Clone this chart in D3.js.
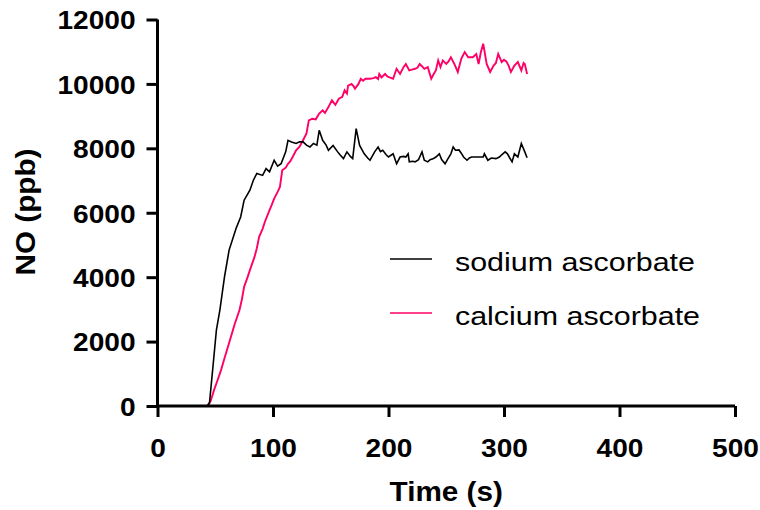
<!DOCTYPE html>
<html>
<head>
<meta charset="utf-8">
<script src="https://cdn.jsdelivr.net/npm/d3@7"></script>
<style>
  html, body { margin: 0; padding: 0; background: #fff; }
  svg { display: block; }
  text { font-family: Arial, "Liberation Sans", sans-serif; fill: #000; }
</style>
</head>
<body>
<svg id="chart" width="760" height="510"></svg>
<script>
// ---------- data ----------
const sodiumTime = [0,43,45,48,51,54,58,62,68,72,75,80,83,86,91,94,97,101,104,107,111,113,116,120,123,126,129,132,135,138,140,143,146,148,152,156,158,161,164,167,169,172,175,179,182,184,188,191,193,195,198,200,204,207,210,213,215,217,218,221,223,226,227,229,231,234,236,239,241,244,246,249,251,254,256,258,261,263,265,268,270,272,276,279,282,283,286,289,293,296,298,301,303,305,307,309,312,315,318,320];
const sodiumNO = [0,0,90,1220,2360,2980,4010,4840,5510,5870,6390,6700,7010,7220,7160,7370,7270,7630,7450,7520,7890,8250,8200,8150,8200,8200,8100,8040,8150,8100,8560,8250,8100,7940,8090,7890,7800,7680,7890,7750,7680,8610,8090,7830,7700,7630,7890,8040,7900,7940,7800,7730,7830,7520,7730,7750,7730,7830,7580,7600,7580,7650,7730,7890,7630,7580,7650,7680,7730,7830,7650,7520,7650,7830,8040,7940,7950,7850,7730,7630,7700,7730,7730,7730,7730,7830,7630,7700,7680,7730,7800,7890,7830,7700,7580,7830,7730,8150,7890,7710];

const calciumTime = [0,43,46,49,52,55,58,61,64,67,71,73,75,78,80,84,86,88,91,93,97,99,101,104,106,108,111,113,115,117,120,123,126,129,131,134,137,140,143,145,148,151,154,157,160,162,164,165,168,170,171,174,176,178,180,184,187,189,191,192,194,197,199,201,204,207,210,213,215,218,221,223,225,227,229,231,234,237,239,241,243,245,247,250,252,254,257,260,263,266,269,273,276,278,280,282,285,288,291,293,295,298,300,302,304,306,309,312,315,317,318,320];
const calciumNO = [0,0,150,500,800,1115,1480,1840,2200,2560,2980,3300,3700,4000,4220,4630,4900,5250,5500,5720,6080,6250,6440,6650,6800,7320,7400,7520,7600,7730,7940,8050,8250,8460,8870,8920,8900,9080,9180,9100,9280,9490,9350,9540,9600,9800,9700,9950,10000,9920,9850,10000,10160,10100,10160,10160,10180,10210,10150,10310,10200,10310,10230,10200,10160,10470,10310,10520,10620,10420,10450,10470,10500,10620,10550,10470,10520,10160,10300,10420,10730,10520,10730,10620,10700,10830,10620,10370,10780,10990,10830,10830,10930,10620,10990,11250,10620,10370,10570,10650,10930,10680,10750,10700,10570,10370,10570,10680,10420,10650,10620,10310];

const xTicks = [0, 100, 200, 300, 400, 500];
const yTicks = [0, 2000, 4000, 6000, 8000, 10000, 12000];
const seriesNames = ["sodium ascorbate", "calcium ascorbate"];
const seriesColors = ["#000000", "#ff0066"];
const xTitle = "Time (s)";
const yTitle = "NO (ppb)";

// ---------- layout ----------
const svg = d3.select("#chart");
const X0 = 157.5, X1 = 735, Y0 = 406, Y1 = 19.5;
const SX = 1.08; // horizontal stretch of the original typography

const x = d3.scaleLinear().domain([0, 500]).range([X0, X1]);
const y = d3.scaleLinear().domain([0, 12000]).range([Y0, Y1]);

// ---------- data lines ----------
const series = [
  { name: seriesNames[0], color: seriesColors[0], width: 1.6, pts: sodiumTime.map((t, i) => [t, sodiumNO[i]]) },
  { name: seriesNames[1], color: seriesColors[1], width: 1.9, pts: calciumTime.map((t, i) => [t, calciumNO[i]]) }
];
const line = d3.line().x(d => x(d[0])).y(d => y(d[1]));

svg.append("path").datum(series[1].pts)
  .attr("d", line).attr("fill", "none")
  .attr("stroke", series[1].color).attr("stroke-width", series[1].width);
svg.append("path").datum(series[0].pts)
  .attr("d", line).attr("fill", "none")
  .attr("stroke", series[0].color).attr("stroke-width", series[0].width);

// ---------- axes ----------
const xAxis = d3.axisBottom(x).tickValues(xTicks).tickSize(11).tickSizeOuter(0).tickFormat(d3.format("d"));
const yAxis = d3.axisLeft(y).tickValues(yTicks).tickSize(11).tickSizeOuter(0).tickFormat(d3.format("d"));

const gx = svg.append("g").attr("transform", `translate(0,${Y0})`).call(xAxis);
const gy = svg.append("g").attr("transform", `translate(${X0},0)`).call(yAxis);

[gx, gy].forEach(g => {
  g.select(".domain").attr("stroke", "#000").attr("stroke-width", 3);
  g.selectAll(".tick line").attr("stroke", "#000").attr("stroke-width", 3);
  g.selectAll(".tick text")
    .attr("font-family", "Arial, 'Liberation Sans', sans-serif")
    .attr("font-weight", "bold").attr("font-size", 26).attr("fill", "#000");
});
gx.select(".domain").attr("d", `M${X0 - 1.5},0H${X1}`);
gy.select(".domain").attr("d", `M0,${Y1}V${Y0 + 1.5}`);

gx.selectAll(".tick text")
  .attr("y", 0).attr("dy", 0)
  .attr("transform", `translate(0,51) scale(${SX},1)`);
gy.selectAll(".tick text")
  .attr("x", 0).attr("dy", "0.36em")
  .attr("transform", `translate(-22,0) scale(${SX},1)`);

// ---------- axis titles ----------
svg.append("text")
  .attr("transform", `translate(${(X0 + X1) / 2},501) scale(1.1,1)`)
  .attr("text-anchor", "middle")
  .attr("font-weight", "bold").attr("font-size", 27)
  .text(xTitle);

svg.append("text")
  .attr("transform", `translate(35,212) rotate(-90) scale(1.1,1)`)
  .attr("text-anchor", "middle")
  .attr("font-weight", "bold").attr("font-size", 27)
  .text(yTitle);

// ---------- legend ----------
const legY = [259, 313];
series.forEach((s, i) => {
  svg.append("line")
    .attr("x1", 390).attr("x2", 432)
    .attr("y1", legY[i]).attr("y2", legY[i])
    .attr("stroke", s.color).attr("stroke-width", 1.6);
  svg.append("text")
    .attr("transform", `translate(455,${legY[i] + 12}) scale(1.17,1)`)
    .attr("font-size", 26)
    .text(s.name);
});
</script>
</body>
</html>
